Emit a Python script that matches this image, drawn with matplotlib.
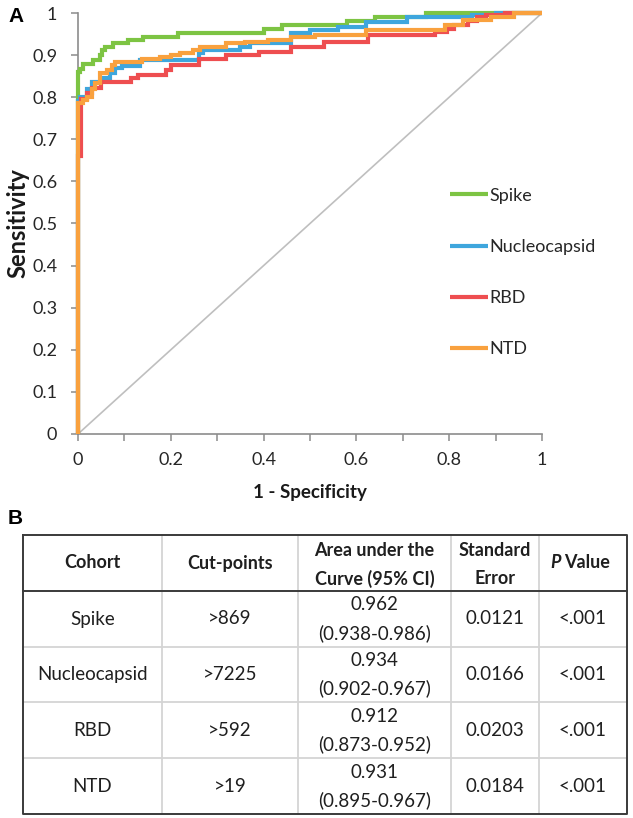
import matplotlib
matplotlib.use("Agg")
import matplotlib.pyplot as plt
from matplotlib.ticker import MultipleLocator

plt.rcParams['font.family'] = ['Lato', 'DejaVu Sans']

# ---------------- data ----------------
series_names = ["Spike", "Nucleocapsid", "RBD", "NTD"]
series_colors = ["#7DC443", "#3EA6DD", "#EE4E50", "#F9A13E"]

spike_fpr = [0, 0, 0.005, 0.011, 0.032, 0.047, 0.052, 0.058, 0.075, 0.108, 0.14, 0.216, 0.40, 0.44, 0.58, 0.64, 0.75, 1.0]
spike_tpr = [0, 0.86, 0.868, 0.878, 0.888, 0.90, 0.912, 0.92, 0.929, 0.936, 0.943, 0.952, 0.962, 0.972, 0.981, 0.99, 1.0, 1.0]

nuc_fpr = [0, 0, 0.005, 0.02, 0.03, 0.05, 0.07, 0.08, 0.095, 0.134, 0.26, 0.27, 0.35, 0.37, 0.46, 0.50, 0.56, 0.62, 0.71, 0.85, 0.90, 1.0]
nuc_tpr = [0, 0.79, 0.80, 0.82, 0.836, 0.845, 0.857, 0.869, 0.875, 0.889, 0.905, 0.912, 0.919, 0.929, 0.952, 0.96, 0.967, 0.979, 0.99, 0.995, 1.0, 1.0]

rbd_fpr = [0, 0, 0.006, 0.02, 0.03, 0.05, 0.115, 0.13, 0.19, 0.20, 0.26, 0.32, 0.39, 0.46, 0.53, 0.625, 0.77, 0.795, 0.81, 0.84, 0.86, 0.88, 0.92, 1.0]
rbd_tpr = [0, 0.66, 0.795, 0.81, 0.822, 0.836, 0.845, 0.853, 0.865, 0.876, 0.89, 0.90, 0.907, 0.919, 0.93, 0.948, 0.955, 0.962, 0.971, 0.98, 0.99, 0.995, 1.0, 1.0]

ntd_fpr = [0, 0, 0.01, 0.02, 0.03, 0.037, 0.047, 0.062, 0.073, 0.08, 0.138, 0.177, 0.2, 0.22, 0.248, 0.263, 0.32, 0.36, 0.41, 0.46, 0.51, 0.62, 0.79, 0.83, 0.89, 0.94, 1.0]
ntd_tpr = [0, 0.786, 0.793, 0.80, 0.82, 0.833, 0.857, 0.865, 0.876, 0.884, 0.89, 0.896, 0.90, 0.905, 0.912, 0.919, 0.929, 0.931, 0.936, 0.943, 0.948, 0.96, 0.971, 0.983, 0.99, 1.0, 1.0]

curves_fpr = [spike_fpr, nuc_fpr, rbd_fpr, ntd_fpr]
curves_tpr = [spike_tpr, nuc_tpr, rbd_tpr, ntd_tpr]

x_ticks = [0, 0.2, 0.4, 0.6, 0.8, 1]
x_ticklabels = ["0", "0.2", "0.4", "0.6", "0.8", "1"]
y_ticks = [0, 0.1, 0.2, 0.3, 0.4, 0.5, 0.6, 0.7, 0.8, 0.9, 1]
y_ticklabels = ["0", "0.1", "0.2", "0.3", "0.4", "0.5", "0.6", "0.7", "0.8", "0.9", "1"]

header = ["Cohort", "Cut-points", ["Area under the", "Curve (95% CI)"], ["Standard", "Error"], "P Value"]
cohorts = ["Spike", "Nucleocapsid", "RBD", "NTD"]
cut_points = [">869", ">7225", ">592", ">19"]
auc = ["0.962", "0.934", "0.912", "0.931"]
auc_ci = ["(0.938-0.986)", "(0.902-0.967)", "(0.873-0.952)", "(0.895-0.967)"]
std_err = ["0.0121", "0.0166", "0.0203", "0.0184"]
p_values = ["<.001", "<.001", "<.001", "<.001"]

# ---------------- figure ----------------
W, H = 633, 818
fig = plt.figure(figsize=(W / 100, H / 100), dpi=100)

ax = fig.add_axes([78 / W, 1 - 434 / H, 464 / W, 421 / H])
ax.plot([0, 1], [0, 1], color="#BFBFBF", lw=1.2, zorder=1)
handles = []
for fx, ty, name, col in zip(curves_fpr, curves_tpr, series_names, series_colors):
    ln, = ax.plot(fx, ty, drawstyle="steps-post", color=col, lw=3.0, label=name,
                  clip_on=False, solid_joinstyle="miter", solid_capstyle="butt", zorder=3)
    handles.append(ln)

ax.set_xlim(0, 1)
ax.set_ylim(0, 1)
for s in ["top", "right"]:
    ax.spines[s].set_visible(False)
for s in ["left", "bottom"]:
    ax.spines[s].set_color("#8C8C8C")
    ax.spines[s].set_linewidth(1.2)
ax.set_xticks(x_ticks)
ax.set_xticklabels(x_ticklabels)
ax.set_yticks(y_ticks)
ax.set_yticklabels(y_ticklabels)
ax.xaxis.set_minor_locator(MultipleLocator(0.1))
ax.tick_params(axis="both", which="both", direction="out", length=5, width=1.1,
               color="#8C8C8C", labelsize=13, labelcolor="#262626")
ax.tick_params(axis="y", pad=10)
ax.tick_params(axis="x", pad=8)

ax.set_xlabel("1 - Specificity", fontsize=13.5, fontweight="bold", color="#1a1a1a", va="center")
ax.xaxis.set_label_coords(0.5, -0.138)
ax.set_ylabel("Sensitivity", fontsize=17, fontweight="bold", color="#1a1a1a", va="center")
ax.yaxis.set_label_coords(-0.129, 0.5)

leg = ax.legend(handles=handles, loc="upper left", bbox_to_anchor=(0.802, 0.585),
                frameon=False, handlelength=2.1, handletextpad=0.1, labelspacing=1.95,
                fontsize=13, borderaxespad=0, borderpad=0)
for t in leg.get_texts():
    t.set_color("#262626")

fig.text(8 / W, 1 - 17 / H, "A", fontsize=15, fontweight="bold", family="Liberation Sans",
         ha="left", va="center")
fig.text(8 / W, 1 - 518 / H, "B", fontsize=15, fontweight="bold", family="Liberation Sans",
         ha="left", va="center")

# ---------------- table ----------------
tx0, ty0, tw, th = 23, 535, 604, 279
tax = fig.add_axes([tx0 / W, 1 - (ty0 + th) / H, tw / W, th / H])
tax.set_xlim(0, tw)
tax.set_ylim(th, 0)
tax.axis("off")
col_edges = [0, 139, 275, 428, 516, 604]
row_edges = [0, 56, 112, 167, 223, 279]
light = "#D4D4D4"
dark = "#3a3a3a"
for xe in col_edges[1:-1]:
    tax.plot([xe, xe], [0, th], color=light, lw=1.3, clip_on=False)
for ye in row_edges[2:-1]:
    tax.plot([0, tw], [ye, ye], color=light, lw=1.3, clip_on=False)
tax.plot([0, tw], [row_edges[1], row_edges[1]], color=dark, lw=1.4, clip_on=False)
tax.plot([0, tw, tw, 0, 0], [0, 0, th, th, 0], color=dark, lw=1.4, clip_on=False)

centers = [(col_edges[i] + col_edges[i + 1]) / 2 for i in range(5)]
rcent = [(row_edges[i] + row_edges[i + 1]) / 2 for i in range(5)]
hfs, bfs = 13, 13.5
tcol = "#1f1f1f"
for i, h in enumerate(header):
    if i == 4:
        continue
    if isinstance(h, list):
        tax.text(centers[i], rcent[0] - 12, h[0], ha="center", va="center", fontsize=hfs, fontweight="bold", color=tcol)
        tax.text(centers[i], rcent[0] + 16, h[1], ha="center", va="center", fontsize=hfs, fontweight="bold", color=tcol)
    else:
        tax.text(centers[i], rcent[0], h, ha="center", va="center", fontsize=hfs, fontweight="bold", color=tcol)
p_part, v_part = header[4].split(" ", 1)
tax.text(centers[4] - 33, rcent[0], p_part, ha="left", va="center", fontsize=hfs, fontweight="bold",
         fontstyle="italic", color=tcol)
tax.text(centers[4] - 19, rcent[0], v_part, ha="left", va="center", fontsize=hfs, fontweight="bold", color=tcol)

for r in range(4):
    yc = rcent[r + 1]
    tax.text(centers[0], yc, cohorts[r], ha="center", va="center", fontsize=bfs, color=tcol)
    tax.text(centers[1], yc, cut_points[r], ha="center", va="center", fontsize=bfs, color=tcol)
    tax.text(centers[2], yc - 14, auc[r], ha="center", va="center", fontsize=bfs, color=tcol)
    tax.text(centers[2], yc + 14, auc_ci[r], ha="center", va="center", fontsize=bfs, color=tcol)
    tax.text(centers[3], yc, std_err[r], ha="center", va="center", fontsize=bfs, color=tcol)
    tax.text(centers[4], yc, p_values[r], ha="center", va="center", fontsize=bfs, color=tcol)

fig.savefig("out.png", dpi=100)
